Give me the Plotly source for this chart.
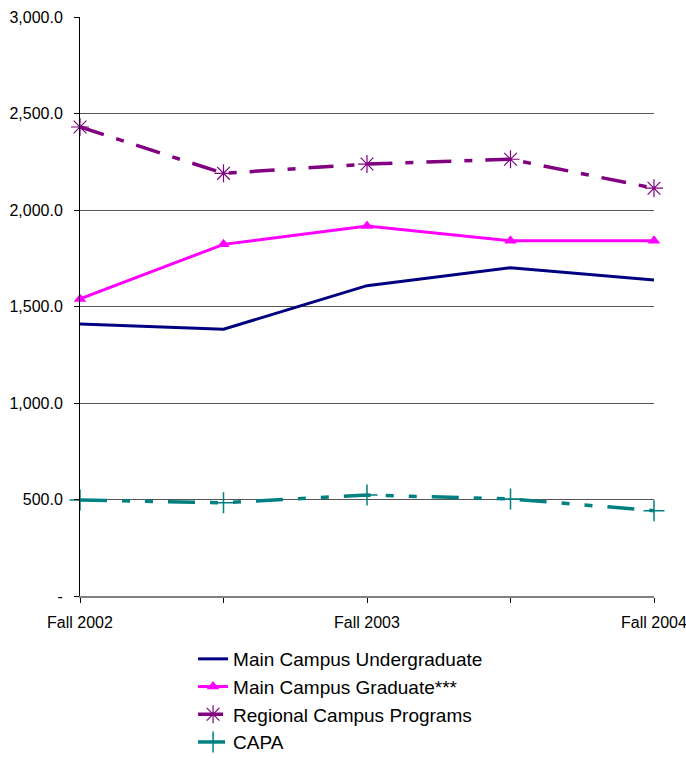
import plotly.graph_objects as go

categories = ["Fall 2002", "Spring 2003", "Fall 2003", "Spring 2004", "Fall 2004"]
x_tick_labels = ["Fall 2002", "", "Fall 2003", "", "Fall 2004"]

undergrad = [1409, 1382, 1608, 1701, 1637]
graduate = [1539, 1822, 1917, 1841, 1841]
regional = [2430, 2190, 2238, 2263, 2113]
capa = [497, 483, 523, 503, 442]

y_tick_vals = [0, 500, 1000, 1500, 2000, 2500, 3000]
y_tick_text = ["-", "500.0", "1,000.0", "1,500.0", "2,000.0", "2,500.0", "3,000.0"]

fig = go.Figure()
fig.add_trace(go.Scatter(
    x=categories, y=undergrad, name="Main Campus Undergraduate",
    mode="lines", line=dict(color="#000080", width=3), cliponaxis=False))
fig.add_trace(go.Scatter(
    x=categories, y=graduate, name="Main Campus Graduate***",
    mode="lines+markers", line=dict(color="#FF00FF", width=3),
    marker=dict(symbol="triangle-up", size=11, color="#FF00FF"), cliponaxis=False))
fig.add_trace(go.Scatter(
    x=categories, y=regional, name="Regional Campus Programs",
    mode="lines+markers", line=dict(color="#800080", width=3.5, dash="25px,13px,8px,13px"),
    marker=dict(symbol="asterisk-open", size=15, color="#800080", line=dict(width=1.2, color="#800080")),
    cliponaxis=False))
fig.add_trace(go.Scatter(
    x=categories, y=capa, name="CAPA",
    mode="lines+markers", line=dict(color="#008080", width=3.5, dash="27px,15px,8px,15px,8px,15px"),
    marker=dict(symbol="cross-thin-open", size=15, color="#008080", line=dict(width=1.5, color="#008080")),
    cliponaxis=False))

fig.update_layout(
    width=686, height=758,
    margin=dict(l=80, r=32, t=17, b=162, autoexpand=False),
    paper_bgcolor="white", plot_bgcolor="white",
    font=dict(family="Arial, Liberation Sans, sans-serif", size=16, color="black"),
    showlegend=True,
    legend=dict(x=0.197, xanchor="left", y=-0.076, yanchor="top",
                font=dict(size=19), bgcolor="rgba(0,0,0,0)", tracegroupgap=0),
    xaxis=dict(type="category", range=[0, 4], tickmode="array",
               tickvals=categories, ticktext=x_tick_labels, automargin=False,
               showgrid=False, showline=True, linecolor="#808080", linewidth=2,
               ticks="outside", ticklen=5, tickcolor="black", zeroline=False,
               ticklabelstandoff=6),
    yaxis=dict(range=[0, 3000], tickmode="array", tickvals=y_tick_vals, ticktext=y_tick_text,
               automargin=False,
               showgrid=True, gridcolor="#555555", gridwidth=1,
               showline=True, linecolor="black", linewidth=1,
               ticks="outside", ticklen=5, tickcolor="black", zeroline=False,
               ticklabelstandoff=8),
)

fig.write_html("out.html", config={"displayModeBar": False},
               post_script="document.body.style.margin='0';")
